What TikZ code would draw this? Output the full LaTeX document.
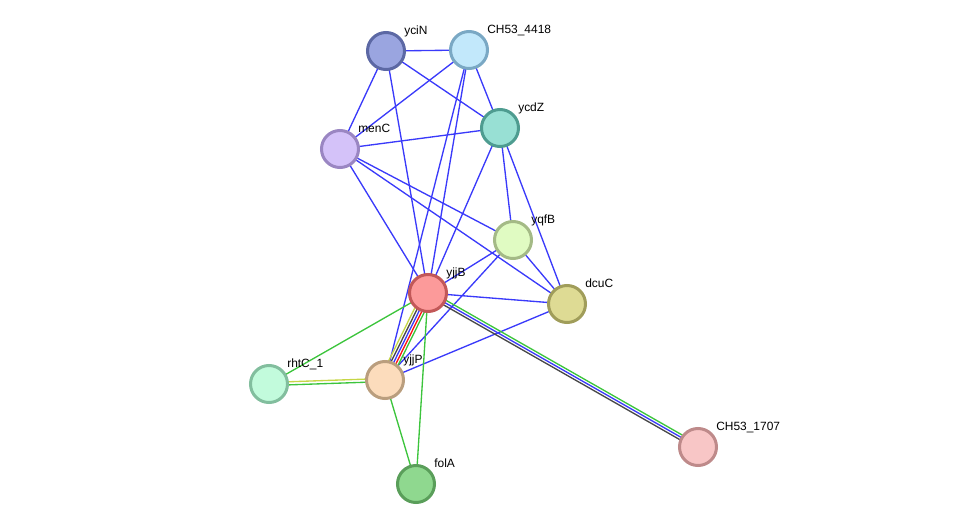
\documentclass[tikz,border=0pt]{standalone}
\usepackage{fontspec}
\setmainfont{Liberation Sans}
\usepackage{xcolor}
\usetikzlibrary{calc,backgrounds}

\definecolor{cooc}{RGB}{58,58,250}
\definecolor{neigh}{RGB}{60,196,60}
\definecolor{tmine}{RGB}{198,214,70}
\definecolor{coexp}{RGB}{72,72,72}
\definecolor{fusion}{RGB}{250,20,20}

\begin{document}
\begin{tikzpicture}[x=0.025cm,y=-0.025cm,
  prot/.style={circle,minimum size=0.925cm,inner sep=0pt,line width=0.075cm},
  lbl/.style={anchor=base west,inner sep=0pt,font=\fontsize{8.5}{10}\selectfont},
  link/.style={line width=0.95pt}]
  \useasboundingbox (0,0) rectangle (976,529);
  % proteins
  \node[prot,fill={rgb,255:red,154;green,165;blue,224},draw={rgb,255:red,92;green,104;blue,164}] (yciN) at (386,51) {};
  \node[prot,fill={rgb,255:red,194;green,232;blue,251},draw={rgb,255:red,122;green,168;blue,196}] (ch4418) at (469,50) {};
  \node[prot,fill={rgb,255:red,152;green,224;blue,212},draw={rgb,255:red,78;green,156;blue,144}] (ycdZ) at (500,128) {};
  \node[prot,fill={rgb,255:red,212;green,194;blue,249},draw={rgb,255:red,154;green,134;blue,194}] (menC) at (340,149) {};
  \node[prot,fill={rgb,255:red,224;green,251;blue,194},draw={rgb,255:red,164;green,186;blue,134}] (yqfB) at (513,240) {};
  \node[prot,fill={rgb,255:red,252;green,154;blue,154},draw={rgb,255:red,194;green,88;blue,88}] (yjjB) at (428,293) {};
  \node[prot,fill={rgb,255:red,222;green,219;blue,148},draw={rgb,255:red,160;green,157;blue,90}] (dcuC) at (567,304) {};
  \node[prot,fill={rgb,255:red,194;green,251;blue,220},draw={rgb,255:red,130;green,190;blue,158}] (rhtC) at (269,384) {};
  \node[prot,fill={rgb,255:red,252;green,220;blue,188},draw={rgb,255:red,186;green,158;blue,126}] (yjjP) at (385,380) {};
  \node[prot,fill={rgb,255:red,248;green,198;blue,198},draw={rgb,255:red,190;green,138;blue,138}] (ch1707) at (698,447) {};
  \node[prot,fill={rgb,255:red,143;green,216;blue,143},draw={rgb,255:red,90;green,158;blue,90}] (folA) at (416,484) {};
  % labels
  \node[lbl] (yciN-t) at ($(yciN)+(18,-17)$) {yciN};
  \node[lbl] (ch4418-t) at ($(ch4418)+(18,-17)$) {CH53\_4418};
  \node[lbl] (ycdZ-t) at ($(ycdZ)+(18,-17)$) {ycdZ};
  \node[lbl] (menC-t) at ($(menC)+(18,-17)$) {menC};
  \node[lbl] (yqfB-t) at ($(yqfB)+(18,-17)$) {yqfB};
  \node[lbl] (yjjB-t) at ($(yjjB)+(18,-17)$) {yjjB};
  \node[lbl] (dcuC-t) at ($(dcuC)+(18,-17)$) {dcuC};
  \node[lbl] (rhtC-t) at ($(rhtC)+(18,-17)$) {rhtC\_1};
  \node[lbl] (yjjP-t) at ($(yjjP)+(18,-17)$) {yjjP};
  \node[lbl] (ch1707-t) at ($(ch1707)+(18,-17)$) {CH53\_1707};
  \node[lbl] (folA-t) at ($(folA)+(18,-17)$) {folA};
  % associations
  \begin{scope}[on background layer]
    \foreach \a/\b in {yciN/ch4418,yciN/ycdZ,yciN/menC,yciN/yjjB,
      ch4418/menC,ch4418/ycdZ,ch4418/yjjB,ch4418/yjjP,
      ycdZ/menC,ycdZ/yqfB,ycdZ/dcuC,ycdZ/yjjB,
      menC/yqfB,menC/dcuC,menC/yjjB,
      yqfB/yjjB,yqfB/yjjP,yqfB/dcuC,yjjB/dcuC,dcuC/yjjP}
      \draw[link,cooc] (\a.center) -- (\b.center);
    \foreach \a/\b in {yjjB/rhtC,yjjB/folA,yjjP/folA}
      \draw[link,neigh] (\a.center) -- (\b.center);
    % multi-evidence links
    \foreach \c/\o in {tmine/-2,coexp/-1,cooc/0,fusion/1,neigh/2}
      \draw[link,\c] ($(yjjB.center)!\o*0.065cm!90:(yjjP.center)$) -- ($(yjjP.center)!\o*0.065cm!-90:(yjjB.center)$);
    \foreach \c/\o in {coexp/-1,cooc/0,neigh/1}
      \draw[link,\c] ($(yjjB.center)!\o*0.065cm!90:(ch1707.center)$) -- ($(ch1707.center)!\o*0.065cm!-90:(yjjB.center)$);
    \foreach \c/\o in {neigh/-0.6,tmine/0.6}
      \draw[link,\c] ($(rhtC.center)!\o*0.065cm!90:(yjjP.center)$) -- ($(yjjP.center)!\o*0.065cm!-90:(rhtC.center)$);
  \end{scope}
\end{tikzpicture}
\end{document}
